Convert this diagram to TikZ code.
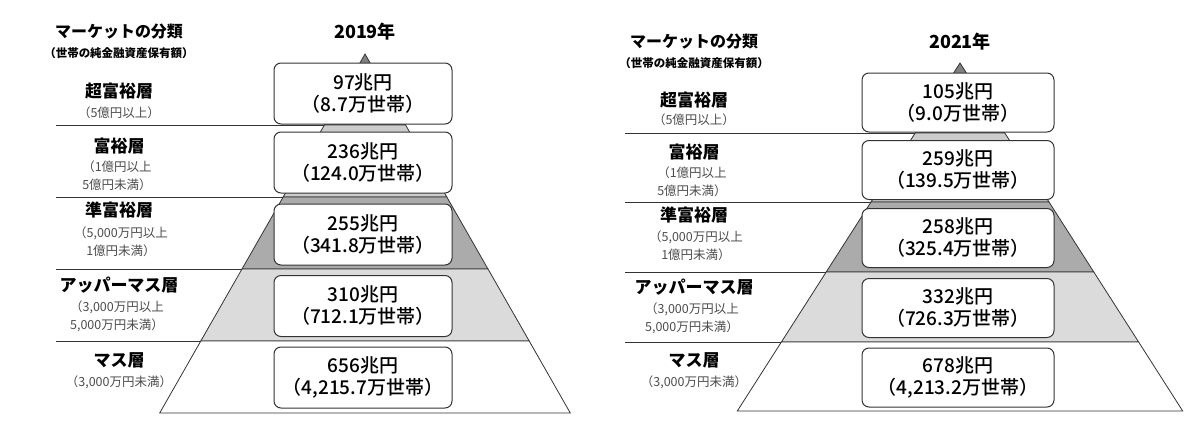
\documentclass[tikz,border=0pt]{standalone}
\usepackage{fontspec}
\setmainfont{Noto Sans CJK JP}
\newfontfamily\medf{Noto Sans CJK JP Medium}
\begin{document}
\begin{tikzpicture}[x=1pt,y=-1pt,
 box/.style={draw=black!80,line width=1pt,rounded corners=7pt,fill=white,inner sep=0pt,font=\medf\fontsize{19}{22}\selectfont,align=center},
 head/.style={font=\bfseries\fontsize{16}{18}\selectfont},
 sub/.style={font=\bfseries\fontsize{11.5}{13}\selectfont},
 lab/.style={font=\bfseries\fontsize{17}{19}\selectfont},
 rng/.style={font=\fontsize{12.5}{18}\selectfont,text=black!70,align=center},
 band/.style={draw=black!80,line width=0.8pt},
 sep/.style={draw=black!80,line width=0.8pt}]
\useasboundingbox (0,0) rectangle (1200,434);
\fill[white] (0,0) rectangle (1200,434);
% ---------- 2019 ----------
\draw[band,fill=black!50] (365,54) -- (405.6,125) -- (324.4,125) -- cycle;
\draw[band,fill=black!20] (324.4,125) -- (405.6,125) -- (446.8,197) -- (283.2,197) -- cycle;
\draw[band,fill=black!33] (283.2,197) -- (446.8,197) -- (488,269) -- (242,269) -- cycle;
\draw[band,fill=black!14] (242,269) -- (488,269) -- (529.2,341) -- (200.8,341) -- cycle;
\draw[band,fill=white] (200.8,341) -- (529.2,341) -- (570.3,413) -- (159.7,413) -- cycle;
\draw[sep] (56,125) -- (324.4,125);
\draw[sep] (56,197) -- (283.2,197);
\draw[sep] (56,269) -- (242,269);
\draw[sep] (56,341) -- (200.8,341);
\node[head] (t1) at (119,32) {マーケットの分類};
\node[sub] (s1) at (119,53) {（世帯の純金融資産保有額）};
\node[head,font=\bfseries\fontsize{18}{20}\selectfont] (y1) at (365,32) {2019年};
\node[box,minimum width=178,minimum height=61] (a1) at (363,93.5) {97兆円\\（8.7万世帯）};
\node[box,minimum width=178,minimum height=61] (a2) at (363,162.5) {236兆円\\（124.0万世帯）};
\node[box,minimum width=178,minimum height=61] (a3) at (363,234.5) {255兆円\\（341.8万世帯）};
\node[box,minimum width=178,minimum height=61] (a4) at (363,306) {310兆円\\（712.1万世帯）};
\node[box,minimum width=178,minimum height=61] (a5) at (363,377.5) {656兆円\\（4,215.7万世帯）};
\node[lab] (l11) at (119,91) {超富裕層};
\node[rng] (r11) at (119,113) {（5億円以上）};
\node[lab] (l12) at (119,146) {富裕層};
\node[rng] (r12) at (117,176) {（1億円以上\\5億円未満）};
\node[lab] (l13) at (119,210) {準富裕層};
\node[rng] (r13) at (121,242) {（5,000万円以上\\1億円未満）};
\node[lab] (l14) at (119,285) {アッパーマス層};
\node[rng] (r14) at (117,316) {（3,000万円以上\\5,000万円未満）};
\node[lab] (l15) at (119,360) {マス層};
\node[rng] (r15) at (119,382) {（3,000万円未満）};
% ---------- 2021 ----------
\draw[band,fill=black!50] (960,63) -- (1004.8,133) -- (915.2,133) -- cycle;
\draw[band,fill=black!20] (915.2,133) -- (1004.8,133) -- (1049,202) -- (871,202) -- cycle;
\draw[band,fill=black!33] (871,202) -- (1049,202) -- (1093.8,272) -- (826.2,272) -- cycle;
\draw[band,fill=black!14] (826.2,272) -- (1093.8,272) -- (1138.6,342) -- (781.4,342) -- cycle;
\draw[band,fill=white] (781.4,342) -- (1138.6,342) -- (1182.7,411) -- (737.3,411) -- cycle;
\draw[sep] (625,133) -- (915.2,133);
\draw[sep] (625,202) -- (871,202);
\draw[sep] (625,272) -- (826.2,272);
\draw[sep] (625,342) -- (781.4,342);
\node[head] (t2) at (694,42) {マーケットの分類};
\node[sub] (s2) at (694,63) {（世帯の純金融資産保有額）};
\node[head,font=\bfseries\fontsize{18}{20}\selectfont] (y2) at (960,42) {2021年};
\node[box,minimum width=192,minimum height=59] (b1) at (958,102.5) {105兆円\\（9.0万世帯）};
\node[box,minimum width=192,minimum height=59] (b2) at (958,170) {259兆円\\（139.5万世帯）};
\node[box,minimum width=192,minimum height=59] (b3) at (958,238) {258兆円\\（325.4万世帯）};
\node[box,minimum width=192,minimum height=59] (b4) at (958,308) {332兆円\\（726.3万世帯）};
\node[box,minimum width=192,minimum height=59] (b5) at (958,377.5) {678兆円\\（4,213.2万世帯）};
\node[lab] (l21) at (694,100) {超富裕層};
\node[rng] (r21) at (694,120) {（5億円以上）};
\node[lab] (l22) at (694,152) {富裕層};
\node[rng] (r22) at (692,182) {（1億円以上\\5億円未満）};
\node[lab] (l23) at (694,215) {準富裕層};
\node[rng] (r23) at (696,246) {（5,000万円以上\\1億円未満）};
\node[lab] (l24) at (694,287) {アッパーマス層};
\node[rng] (r24) at (692,318) {（3,000万円以上\\5,000万円未満）};
\node[lab] (l25) at (694,360) {マス層};
\node[rng] (r25) at (694,382) {（3,000万円未満）};
\end{tikzpicture}
\end{document}
